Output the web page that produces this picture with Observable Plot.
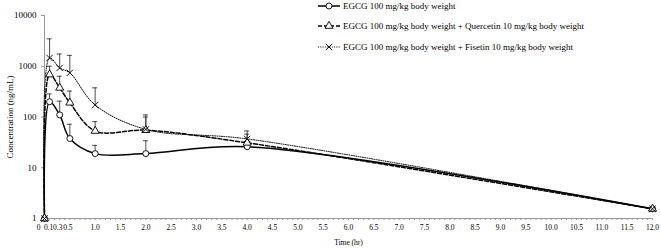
<!DOCTYPE html>
<html><head><meta charset="utf-8">
<script src="https://cdn.jsdelivr.net/npm/d3@7"></script>
<script src="https://cdn.jsdelivr.net/npm/@observablehq/plot@0.6"></script>
<style>
body{margin:0;background:#fff}
#wrap{position:relative;width:661px;height:249px;font-family:"Liberation Serif","Times New Roman",serif}
#legend{position:absolute;left:0;top:0}
</style></head><body><div id="wrap"></div>
<script>
// time points (hr)
const times = [0, 0.1, 0.3, 0.5, 1, 2, 4, 12];
const seriesNames = [
  "EGCG 100 mg/kg body weight",
  "EGCG 100 mg/kg body weight + Quercetin 10 mg/kg body weight",
  "EGCG 100 mg/kg body weight + Fisetin 10 mg/kg body weight"
];
// mean concentration (ng/mL)
const egcg      = [1, 200, 110, 37.6, 19, 19, 26, 1.55];
const quercetin = [1, 687, 375, 191, 53, 55, 31, 1.55];
const fisetin   = [1, 1455, 926, 740, 172, 57, 37, 1.55];
// upper end of error bars (mean + SD)
const egcgUpper      = [null, 285, 205, 72, 27.6, 34, 33, null];
const quercetinUpper = [null, 1000, 636, 324, 81, 100, 46, null];
const fisetinUpper   = [null, 3470, 1740, 1640, 375, 110, 53, null];
// tick labels
const xTickValues = [0, 0.1, 0.3, 0.5, 1, 1.5, 2, 2.5, 3, 3.5, 4, 4.5, 5, 5.5, 6, 6.5, 7, 7.5, 8, 8.5, 9, 9.5, 10, 10.5, 11, 11.5, 12];
const xTickLabels = ["0","0.1","0.3","0.5","1.0","1.5","2.0","2.5","3.0","3.5","4.0","4.5","5.0","5.5","6.0","6.5","7.0","7.5","8.0","8.5","9.0","9.5","10.0","10.5","11.0","11.5","12.0"];
const yTickValues = [1, 10, 100, 1000, 10000];
const yTickLabels = ["1","10","100","1000","10000"];

const styles = [
  {symbol: "circle", dash: null, width: 1.5},
  {symbol: "triangle", dash: "4,2", width: 1.5},
  {symbol: "times", dash: "1,1.3", width: 1}
];
const values = [egcg, quercetin, fisetin];
const uppers = [egcgUpper, quercetinUpper, fisetinUpper];

const rows = [];
values.forEach((vals, s) => times.forEach((t, i) => rows.push({series: s, t, v: vals[i], up: uppers[s][i]})));
const minorTicks = d3.range(0, 121).map(k => k / 10);
const xLabel = d => xTickLabels[xTickValues.indexOf(d)];
const yLabel = d => yTickLabels[yTickValues.indexOf(d)];

const marks = [];
for (let s = 0; s < 3; s++) {
  const d = rows.filter(r => r.series === s);
  const e = d.filter(r => r.up != null);
  marks.push(Plot.ruleX(e, {x: "t", y1: "v", y2: "up", stroke: "#222", strokeWidth: 0.8}));
  marks.push(Plot.ruleY(e, {y: "up", x1: r => r.t - 0.05, x2: r => r.t + 0.05, stroke: "#222", strokeWidth: 0.8}));
}
for (let s = 0; s < 3; s++) {
  const d = rows.filter(r => r.series === s);
  marks.push(Plot.line(d, {x: "t", y: "v", curve: "catmull-rom", stroke: "black", strokeWidth: styles[s].width, strokeDasharray: styles[s].dash}));
}
for (let s = 0; s < 3; s++) {
  const d = rows.filter(r => r.series === s);
  marks.push(Plot.dot(d, {x: "t", y: "v", symbol: styles[s].symbol, r: 3, stroke: "black", strokeWidth: 0.9, fill: s === 2 ? "none" : "white"}));
}

const xFont = 7.5;
const chart = Plot.plot({
  width: 661, height: 249,
  marginLeft: 44, marginRight: 9, marginTop: 15, marginBottom: 31,
  style: {fontFamily: '"Liberation Serif","Times New Roman",serif', fontSize: "9px", color: "black", background: "white"},
  x: {domain: [0, 12]},
  y: {type: "log", domain: [1, 10000]},
  marks: [
    Plot.axisX({ticks: minorTicks, tickSize: 2, text: null, stroke: "#999", label: null}),
    Plot.axisX({ticks: xTickValues.slice(4), tickSize: 0, tickPadding: 6, tickFormat: xLabel, fontSize: xFont, label: "Time (hr)", labelAnchor: "center", labelArrow: "none", labelOffset: 26}),
    Plot.axisX({ticks: [0], tickSize: 0, tickPadding: 6, tickFormat: xLabel, fontSize: xFont, dx: -6, label: null}),
    Plot.axisX({ticks: [0.1], tickSize: 0, tickPadding: 6, tickFormat: xLabel, fontSize: xFont, dx: -1, label: null}),
    Plot.axisX({ticks: [0.3], tickSize: 0, tickPadding: 6, tickFormat: xLabel, fontSize: xFont, dx: -2, label: null}),
    Plot.axisX({ticks: [0.5], tickSize: 0, tickPadding: 6, tickFormat: xLabel, fontSize: xFont, dx: -2, label: null}),
    Plot.axisY({ticks: yTickValues, tickSize: 3, stroke: "#999", text: null, label: null}),
    Plot.axisY({ticks: yTickValues, tickSize: 0, tickPadding: 8, tickFormat: yLabel, fill: "black", label: "Concentration (ng/mL)", labelAnchor: "center", labelArrow: "none", labelOffset: 38}),
    Plot.ruleX([0], {stroke: "#999"}),
    Plot.ruleY([1], {stroke: "#999"}),
    ...marks
  ]
});
const wrap = document.getElementById("wrap");
wrap.appendChild(chart);

// legend
const lg = d3.select(wrap).append("svg").attr("id", "legend").attr("width", 661).attr("height", 60)
  .style("font-family", '"Liberation Serif","Times New Roman",serif').style("font-size", "9px");
const rowY = [6, 26, 47];
const symPath = {
  circle: d3.symbol(d3.symbolCircle, 28)(),
  triangle: d3.symbol(d3.symbolTriangle, 28)(),
  times: d3.symbol(d3.symbolTimes, 28)()
};
seriesNames.forEach((name, s) => {
  const g = lg.append("g").attr("transform", `translate(0,${rowY[s]})`);
  g.append("line").attr("x1", 318).attr("x2", 340).attr("stroke", "black")
    .attr("stroke-width", styles[s].width).attr("stroke-dasharray", styles[s].dash);
  g.append("path").attr("d", symPath[styles[s].symbol]).attr("transform", "translate(329,0)")
    .attr("stroke", "black").attr("stroke-width", 0.9).attr("fill", s === 2 ? "none" : "white");
  g.append("text").attr("x", 343).attr("y", 0).attr("dy", "0.32em").text(name);
});
</script></body></html>
